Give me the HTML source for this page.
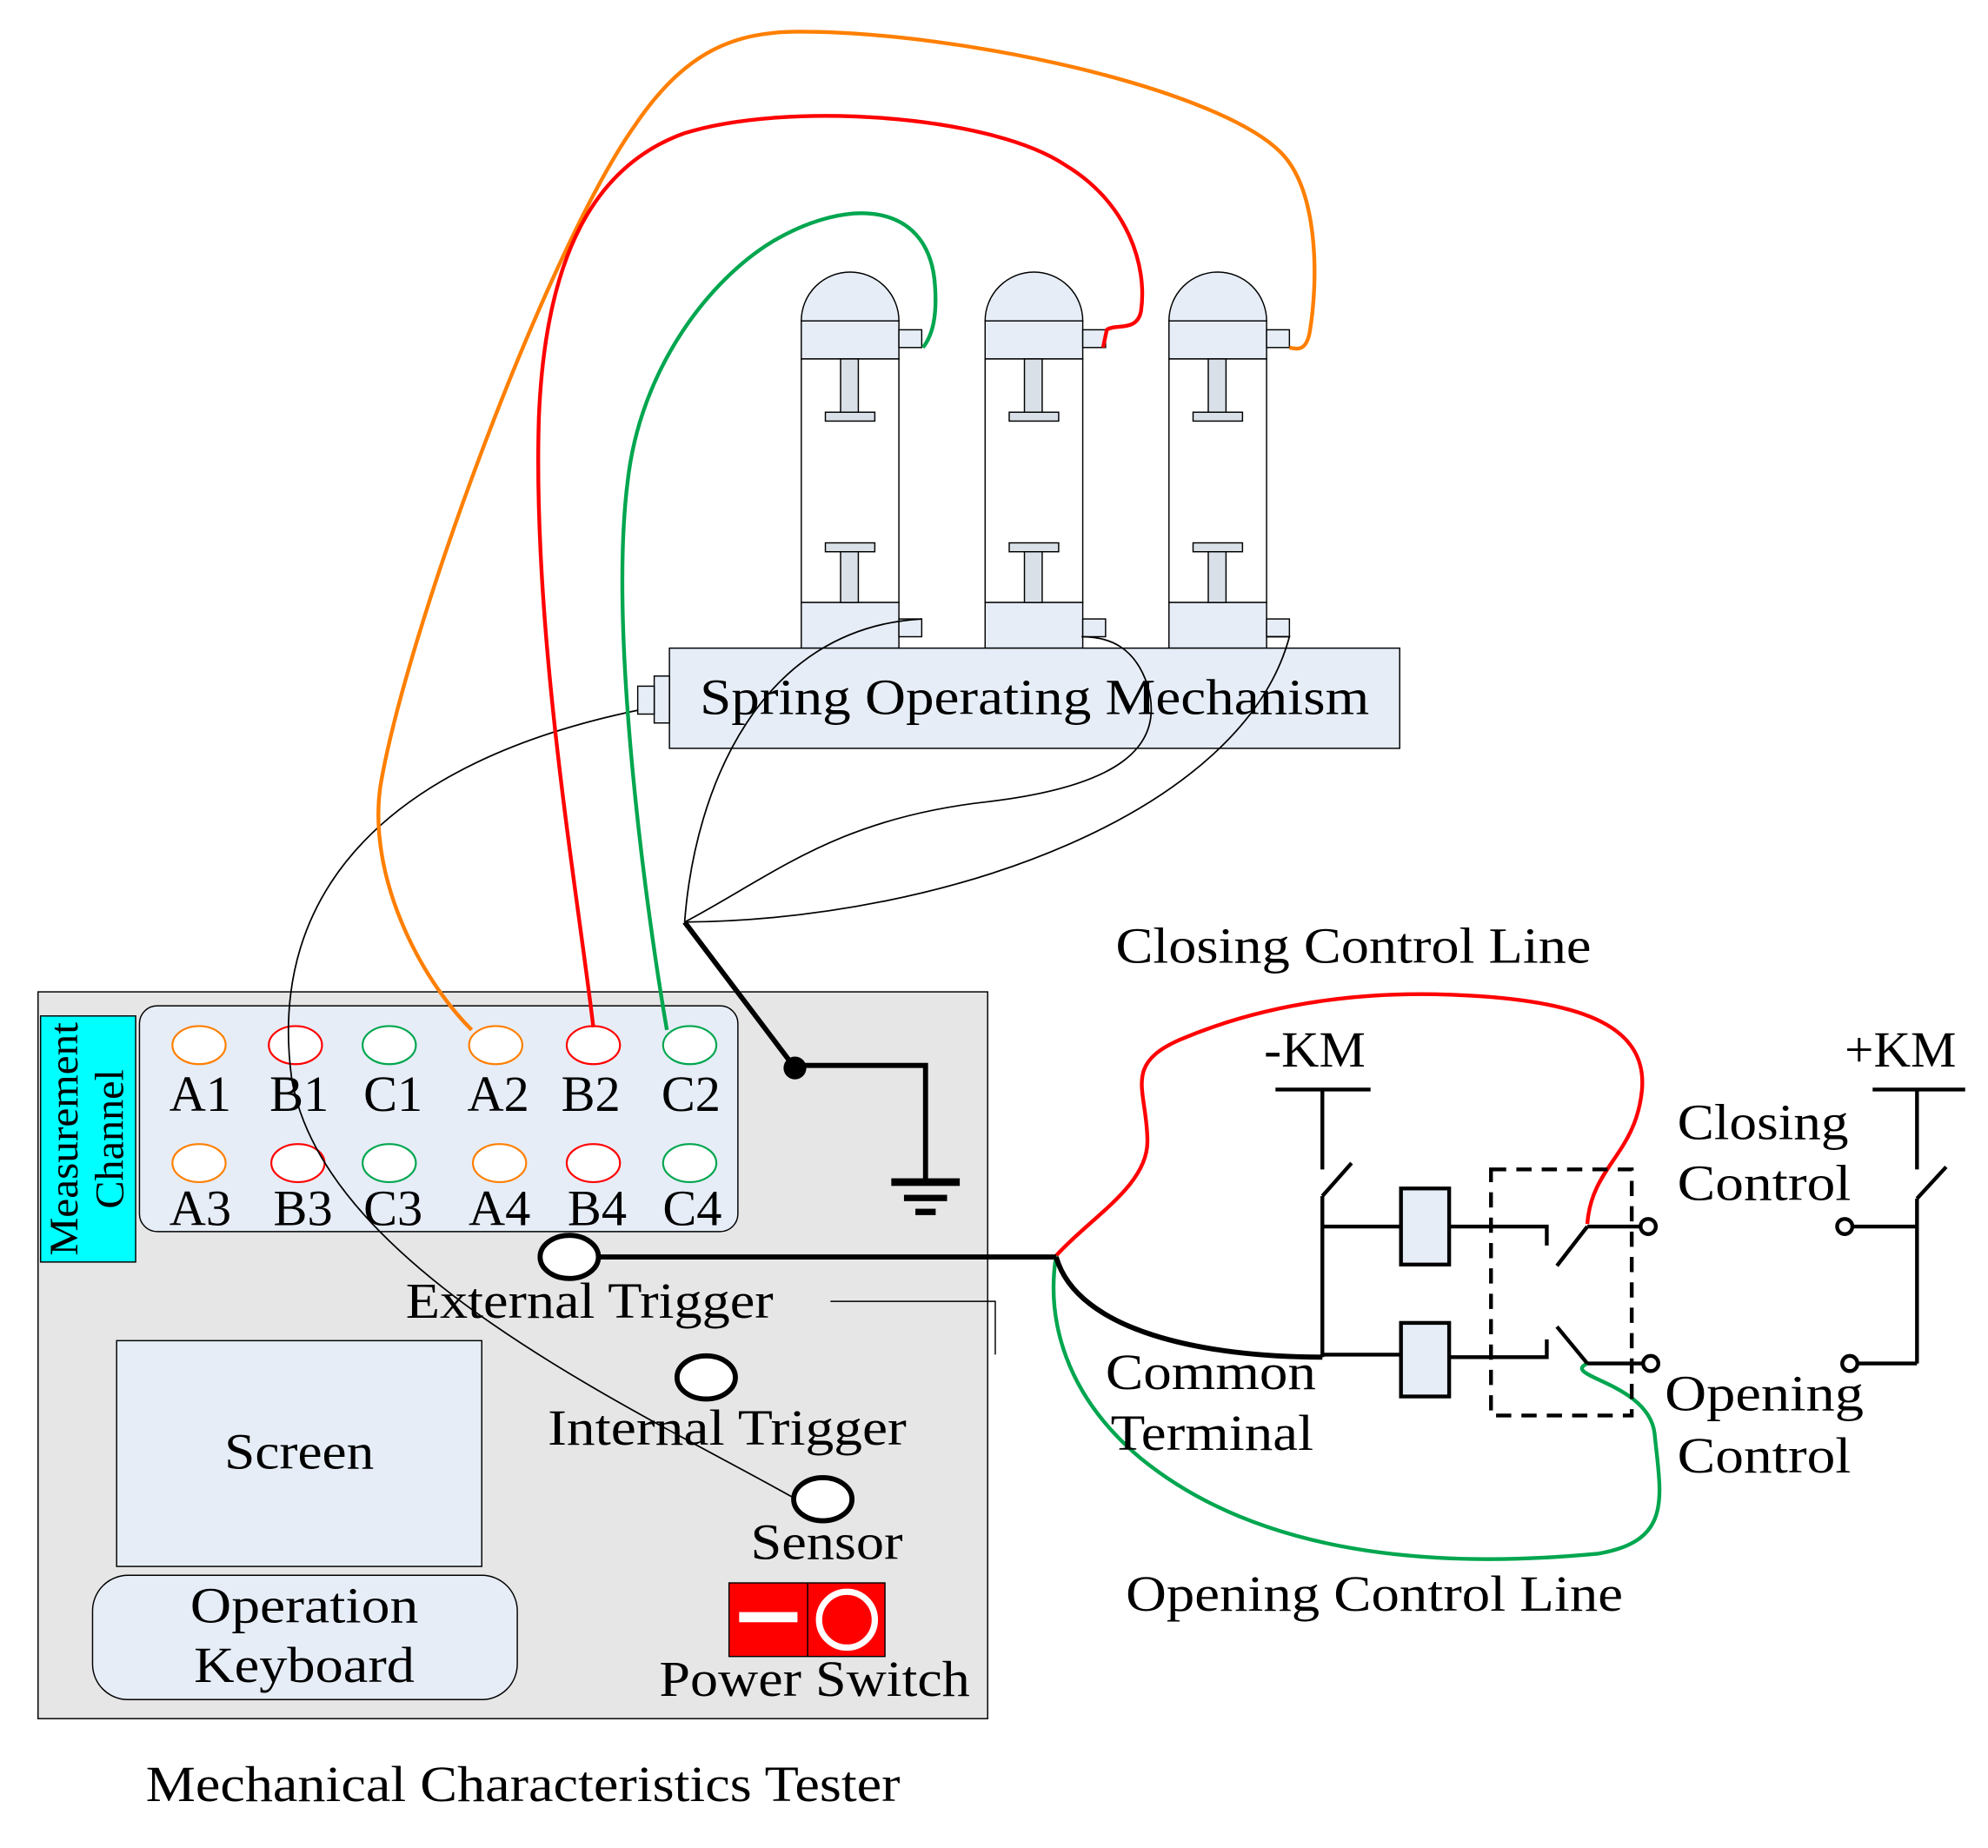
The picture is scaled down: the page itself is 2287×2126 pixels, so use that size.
<!DOCTYPE html>
<html><head><meta charset="utf-8"><style>
html,body{margin:0;padding:0;background:#fff;}
svg{display:block;}
text{font-family:"Liberation Serif",serif;fill:#000;}
</style></head><body>
<svg width="2287" height="2126" viewBox="0 0 1568 1457" preserveAspectRatio="none" xmlns="http://www.w3.org/2000/svg">
<!-- Tester -->
<rect x="30" y="782" width="749" height="573" fill="#e6e6e6" stroke="#000" stroke-width="1"/>
<rect x="32" y="801" width="75" height="194" fill="#00ffff" stroke="#000" stroke-width="1"/>
<text transform="translate(61,898) rotate(-90)" font-size="32" text-anchor="middle" textLength="184" lengthAdjust="spacingAndGlyphs">Measurement</text>
<text transform="translate(97,898) rotate(-90)" font-size="32" text-anchor="middle" textLength="110" lengthAdjust="spacingAndGlyphs">Channel</text>
<rect x="110" y="793" width="472" height="178" rx="14" fill="#e6edf7" stroke="#000" stroke-width="1"/>
<g fill="#fff" stroke-width="1.5">
<ellipse cx="157" cy="824" rx="21" ry="15" stroke="#ff7f00"/>
<ellipse cx="233" cy="824" rx="21" ry="15" stroke="#ff0000"/>
<ellipse cx="307" cy="824" rx="21" ry="15" stroke="#00a64f"/>
<ellipse cx="391" cy="824" rx="21" ry="15" stroke="#ff7f00"/>
<ellipse cx="468" cy="824" rx="21" ry="15" stroke="#ff0000"/>
<ellipse cx="544" cy="824" rx="21" ry="15" stroke="#00a64f"/>
<ellipse cx="157" cy="917" rx="21" ry="15" stroke="#ff7f00"/>
<ellipse cx="235" cy="917" rx="21" ry="15" stroke="#ff0000"/>
<ellipse cx="307" cy="917" rx="21" ry="15" stroke="#00a64f"/>
<ellipse cx="394" cy="917" rx="21" ry="15" stroke="#ff7f00"/>
<ellipse cx="468" cy="917" rx="21" ry="15" stroke="#ff0000"/>
<ellipse cx="544" cy="917" rx="21" ry="15" stroke="#00a64f"/>
</g>
<g font-size="40" text-anchor="middle">
<text x="158" y="876">A1</text><text x="236" y="876">B1</text><text x="310" y="876">C1</text>
<text x="393" y="876">A2</text><text x="466" y="876">B2</text><text x="545" y="876">C2</text>
<text x="158" y="966">A3</text><text x="239" y="966">B3</text><text x="310" y="966">C3</text>
<text x="394" y="966">A4</text><text x="471" y="966">B4</text><text x="546" y="966">C4</text>
</g>
<rect x="92" y="1057" width="288" height="178" fill="#e6edf7" stroke="#000" stroke-width="1"/>
<text x="177" y="1158" font-size="40" textLength="118" lengthAdjust="spacingAndGlyphs">Screen</text>
<rect x="73" y="1242" width="335" height="98" rx="28" fill="#e6edf7" stroke="#000" stroke-width="1"/>
<text x="150" y="1279" font-size="40" textLength="180" lengthAdjust="spacingAndGlyphs">Operation</text>
<text x="153" y="1326" font-size="40" textLength="174" lengthAdjust="spacingAndGlyphs">Keyboard</text>
<rect x="575" y="1248" width="123" height="58" fill="#ff0000" stroke="#000" stroke-width="1"/>
<line x1="637" y1="1248" x2="637" y2="1306" stroke="#000" stroke-width="1"/>
<rect x="583" y="1271" width="46" height="8" fill="#fff"/>
<circle cx="668" cy="1277" r="22" fill="none" stroke="#fff" stroke-width="5"/>
<text x="520" y="1337" font-size="40" textLength="245" lengthAdjust="spacingAndGlyphs">Power Switch</text>
<text x="115" y="1420" font-size="40" textLength="595" lengthAdjust="spacingAndGlyphs">Mechanical Characteristics Tester</text>
<polyline points="655,1026 785,1026 785,1068" fill="none" stroke="#000" stroke-width="1"/>
<!-- breakers -->
<g stroke="#000" stroke-width="1">
<g id="b1">
<path d="M632,253 A38.5,38.5 0 0 1 709,253 Z" fill="#e6edf7"/>
<rect x="632" y="253" width="77" height="30" fill="#e6edf7"/>
<rect x="632" y="283" width="77" height="192" fill="#fff"/>
<rect x="632" y="475" width="77" height="36" fill="#e6edf7"/>
<rect x="663" y="283" width="14" height="42" fill="#dae0e8"/>
<rect x="651" y="325" width="39" height="7" fill="#dae0e8"/>
<rect x="651" y="428" width="39" height="7" fill="#dae0e8"/>
<rect x="663" y="435" width="14" height="40" fill="#dae0e8"/>
<rect x="709" y="260" width="18" height="14" fill="#e6edf7"/>
<rect x="709" y="488" width="18" height="14" fill="#e6edf7"/>
</g>
<use href="#b1" x="145"/>
<use href="#b1" x="290"/>
<rect x="528" y="511" width="576" height="79" fill="#e6edf7"/>
<rect x="516" y="533" width="12" height="37" fill="#e6edf7"/>
<rect x="503" y="541" width="13" height="22" fill="#e6edf7"/>
</g>
<text x="552" y="563" font-size="40" textLength="528" lengthAdjust="spacingAndGlyphs">Spring Operating Mechanism</text>
<!-- thin black wires -->
<g fill="none" stroke="#000" stroke-width="1.2">
<path d="M540,727 C548,620 600,495 727,488"/>
<path d="M540,727 C610,690 660,645 780,632 C880,620 920,590 905,540 C895,510 875,502 853,502"/>
<path d="M540,727 C750,725 980,640 1017,502 L999,502"/>
<path d="M503,560 C310,600 210,700 230,850 C255,1000 500,1110 628,1182"/>
</g>
<!-- ground -->
<g stroke="#000" fill="none" stroke-width="4">
<line x1="540" y1="727" x2="627" y2="842"/>
<polyline points="627,840 730,840 730,932"/>
</g>
<circle cx="627" cy="842" r="9" fill="#000"/>
<rect x="703" y="929" width="54" height="6" fill="#000"/>
<rect x="713" y="942" width="34" height="5" fill="#000"/>
<rect x="722" y="953" width="16" height="5" fill="#000"/>
<!-- colored wires -->
<g fill="none" stroke-width="3">
<path d="M372,812 C330,770 290,690 300,620 C320,500 430,200 500,100 C540,40 580,25 630,25 C760,25 960,70 1010,120 C1040,150 1040,220 1033,262 C1030,278 1022,275 1017,274" stroke="#ff7f00"/>
<path d="M468,810 C455,700 420,500 425,330 C430,200 470,130 540,105 C620,80 780,90 840,130 C890,160 905,210 900,245 C897,262 880,255 873,260 L870,274" stroke="#ff0000"/>
<path d="M526,812 C510,720 480,500 495,380 C505,290 560,220 610,190 C670,155 730,160 737,220 C740,250 735,265 728,274" stroke="#00a64f"/>
<path d="M833,990 C860,960 905,935 905,900 C905,860 885,840 930,820 C1000,790 1080,780 1160,785 C1250,790 1300,810 1295,860 C1290,910 1255,920 1252,965" stroke="#ff0000"/>
<path d="M833,990 C825,1040 840,1100 900,1150 C980,1215 1100,1240 1260,1225 C1320,1215 1310,1180 1305,1130 C1300,1090 1230,1085 1252,1075" stroke="#00a64f"/>
</g>
<!-- triggers -->
<g stroke="#000" stroke-width="4" fill="none">
<line x1="472" y1="991" x2="833" y2="991"/>
<path d="M833,991 C850,1050 950,1070 1043,1070"/>
</g>
<g fill="#fff" stroke="#000" stroke-width="4">
<ellipse cx="449" cy="991" rx="23" ry="17"/>
<ellipse cx="557" cy="1086" rx="23" ry="17"/>
<ellipse cx="649" cy="1182" rx="23" ry="17"/>
</g>
<text x="320" y="1039" font-size="40" textLength="290" lengthAdjust="spacingAndGlyphs">External Trigger</text>
<text x="432" y="1139" font-size="40" textLength="283" lengthAdjust="spacingAndGlyphs">Internal Trigger</text>
<text x="592" y="1229" font-size="40" textLength="120" lengthAdjust="spacingAndGlyphs">Sensor</text>
<!-- circuit -->
<g stroke="#000" stroke-width="3" fill="none">
<line x1="1006" y1="859" x2="1081" y2="859"/>
<line x1="1043" y1="859" x2="1043" y2="922"/>
<line x1="1043" y1="943" x2="1066" y2="917"/>
<line x1="1043" y1="943" x2="1043" y2="1070"/>
<line x1="1043" y1="967" x2="1105" y2="967"/>
<polyline points="1143,967 1220,967 1220,982"/>
<line x1="1228" y1="998" x2="1252" y2="967"/>
<line x1="1252" y1="967" x2="1293" y2="967"/>
<line x1="1043" y1="1068" x2="1105" y2="1068"/>
<polyline points="1143,1070 1220,1070 1220,1056"/>
<line x1="1228" y1="1046" x2="1252" y2="1075"/>
<line x1="1252" y1="1075" x2="1295" y2="1075"/>
<rect x="1176" y="922" width="111" height="194" stroke-dasharray="12,8"/>
<line x1="1477" y1="859" x2="1550" y2="859"/>
<line x1="1512" y1="859" x2="1512" y2="922"/>
<line x1="1512" y1="945" x2="1535" y2="920"/>
<line x1="1512" y1="945" x2="1512" y2="1075"/>
<line x1="1462" y1="967" x2="1512" y2="967"/>
<line x1="1466" y1="1075" x2="1512" y2="1075"/>
</g>
<g fill="#fff" stroke="#000" stroke-width="3">
<circle cx="1300" cy="967" r="6"/>
<circle cx="1302" cy="1075" r="6"/>
<circle cx="1455" cy="967" r="6"/>
<circle cx="1459" cy="1075" r="6"/>
<rect x="1105" y="937" width="38" height="60" fill="#e6edf7"/>
<rect x="1105" y="1043" width="38" height="58" fill="#e6edf7"/>
</g>
<g font-size="40">
<text x="880" y="759" textLength="375" lengthAdjust="spacingAndGlyphs">Closing Control Line</text>
<text x="997" y="841" textLength="80" lengthAdjust="spacingAndGlyphs">-KM</text>
<text x="1455" y="841" textLength="88" lengthAdjust="spacingAndGlyphs">+KM</text>
<text x="1323" y="898" textLength="135" lengthAdjust="spacingAndGlyphs">Closing</text>
<text x="1323" y="946" textLength="137" lengthAdjust="spacingAndGlyphs">Control</text>
<text x="1313" y="1112" textLength="157" lengthAdjust="spacingAndGlyphs">Opening</text>
<text x="1323" y="1161" textLength="137" lengthAdjust="spacingAndGlyphs">Control</text>
<text x="872" y="1095" textLength="166" lengthAdjust="spacingAndGlyphs">Common</text>
<text x="876" y="1143" textLength="160" lengthAdjust="spacingAndGlyphs">Terminal</text>
<text x="888" y="1270" textLength="392" lengthAdjust="spacingAndGlyphs">Opening Control Line</text>
</g>
</svg>
</body></html>
